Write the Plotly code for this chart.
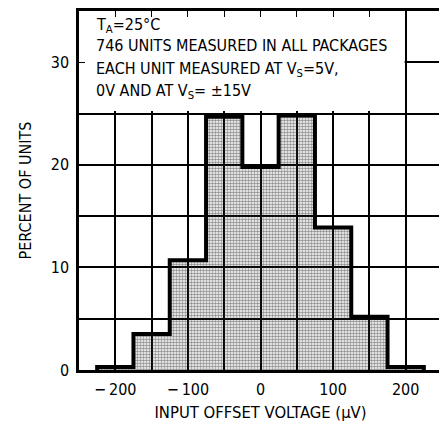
import plotly.graph_objects as go

# histogram of input offset voltage, bins 50 uV wide
bin_centers = [-200, -150, -100, -50, 0, 50, 100, 150, 200]
percent_units = [0.3, 3.5, 10.7, 24.7, 19.8, 24.8, 13.9, 5.2, 0.3]
bin_width = 50

x_ticks = [-200, -100, 0, 100, 200]
x_ticklabels = ["\u2212\u2009200", "\u2212\u2009100", "0", "100", "200"]
y_ticks = [0, 10, 20, 30]

note_lines = [
    "T<sub>A</sub>=25°C",
    "746 UNITS MEASURED IN ALL PACKAGES",
    "EACH UNIT MEASURED AT V<sub>S</sub>=5V,",
    "0V AND AT V<sub>S</sub>= ±15V",
]
note_y = [34.8, 32.75, 30.5, 28.4]

FONT = "DejaVu Sans Condensed, Liberation Sans Narrow, sans-serif"

# step outline around the bars
half = bin_width / 2
step_x = [bin_centers[0] - half] + [c - half for c in bin_centers] + [bin_centers[-1] + half, bin_centers[-1] + half]
step_y = [0] + percent_units + [percent_units[-1], 0]

fig = go.Figure()
fig.add_trace(go.Bar(
    x=bin_centers,
    y=percent_units,
    width=bin_width,
    marker=dict(
        color="rgba(0,0,0,0)",
        line=dict(width=0),
        pattern=dict(shape=".", fgcolor="#222", bgcolor="rgba(0,0,0,0)",
                     size=3, solidity=0.55),
    ),
    hoverinfo="x+y",
))
fig.add_trace(go.Scatter(
    x=step_x,
    y=step_y,
    mode="lines",
    line=dict(color="black", width=4, shape="hv"),
    hoverinfo="skip",
))

# white box for the notes, hides the grid behind it
fig.add_shape(type="rect", xref="x", yref="y", x0=-250, x1=198.5, y0=25.25, y1=35.2,
              fillcolor="white", line=dict(width=0), layer="between")

for txt, yy in zip(note_lines, note_y):
    fig.add_annotation(
        xref="x", yref="y", x=-229, y=yy,
        xanchor="left", yanchor="top", align="left", showarrow=False,
        text=txt, font=dict(family=FONT, size=16, color="black"),
    )

# page body has an 8px margin, so the figure is a bit smaller than the window
fig.update_layout(
    width=439, height=417,
    margin=dict(l=71, r=5, t=0, b=55),
    paper_bgcolor="white", plot_bgcolor="white",
    showlegend=False,
    font=dict(family=FONT, size=16, color="black"),
    bargap=0,
)
fig.update_xaxes(
    range=[-250, 250],
    tickvals=x_ticks, ticktext=x_ticklabels,
    showline=True, linecolor="black", linewidth=2.5, mirror="ticks",
    ticks="inside", ticklen=6, tickcolor="black", ticklabelstandoff=3,
    showgrid=True, gridcolor="black", gridwidth=1.5,
    minor=dict(dtick=50, showgrid=True, gridcolor="black", gridwidth=1.5, ticks="inside", ticklen=6),
    zeroline=False,
    title=dict(text="INPUT OFFSET VOLTAGE (µV)", standoff=9, font=dict(size=16.5)),
)
fig.update_yaxes(
    range=[0, 35],
    tickvals=y_ticks,
    showline=True, linecolor="black", linewidth=2.5, mirror=True,
    ticks="inside", ticklen=6, tickcolor="black", ticklabelstandoff=4,
    showgrid=True, gridcolor="black", gridwidth=1.5,
    minor=dict(dtick=5, showgrid=True, gridcolor="black", gridwidth=1.5),
    zeroline=False,
    title=dict(text="PERCENT OF UNITS", standoff=16, font=dict(size=16)),
)

fig.write_html("out.html")
